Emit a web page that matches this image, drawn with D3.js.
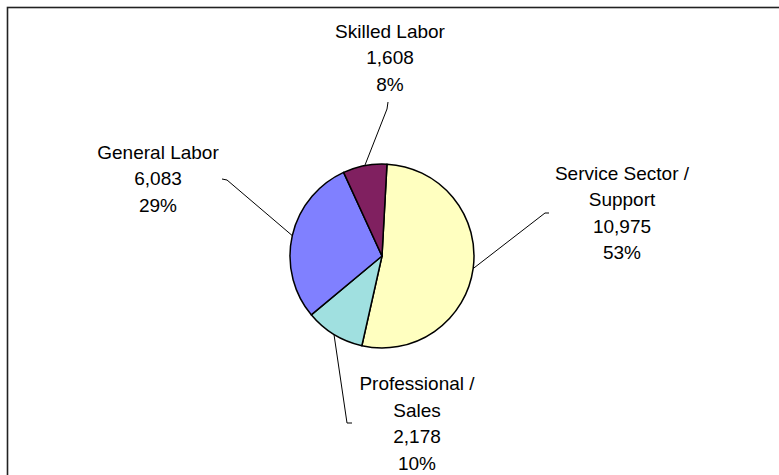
<!DOCTYPE html>
<html>
<head>
<meta charset="utf-8">
<script src="https://cdn.jsdelivr.net/npm/d3@7"></script>
<style>
  html, body { margin: 0; padding: 0; background: #fff; }
  svg { display: block; }
</style>
</head>
<body>
<svg id="chart" width="779" height="475"></svg>
<script>
// ---- data ----
const categories = ["Service Sector / Support", "Professional / Sales", "General Labor", "Skilled Labor"];
const labelLines = [["Service Sector /", "Support"], ["Professional /", "Sales"], ["General Labor"], ["Skilled Labor"]];
const values = [10975, 2178, 6083, 1608];
const colors = ["#FFFFC0", "#A0E0E0", "#8080FF", "#802060"];

// ---- layout ----
const W = 779, H = 475;
const cx = 382, cy = 256, R = 92;
const startAngle = 3.1 * Math.PI / 180;
const fontSize = 19, lineH = 26.5;
// label block: center x, first baseline y ; leader end (elbow) points
const labelLayout = [
  { x: 622, y: 179.5, elbow: [[545, 213], [549, 213]] },
  { x: 417, y: 390, elbow: [[347, 423], [352, 423]] },
  { x: 158, y: 158.5, elbow: [[227, 180], [222, 179]] },
  { x: 390, y: 37.5, elbow: [[387, 109], [388, 102]] }
];

const svg = d3.select("#chart");

// frame
svg.append("rect")
  .attr("x", 7.5).attr("y", 7.5)
  .attr("width", W + 10).attr("height", H + 10)
  .attr("fill", "none").attr("stroke", "#222").attr("stroke-width", 1.6);

const total = d3.sum(values);
const data = categories.map((c, i) => ({ cat: c, value: values[i], i }));

const pie = d3.pie().value(d => d.value).sort(null)
  .startAngle(startAngle).endAngle(startAngle + 2 * Math.PI);
const arcs = pie(data);
const arc = d3.arc().innerRadius(0).outerRadius(R);

const g = svg.append("g").attr("transform", `translate(${cx},${cy})`);
g.selectAll("path.slice").data(arcs).enter().append("path")
  .attr("class", "slice")
  .attr("d", arc)
  .attr("fill", d => colors[d.data.i])
  .attr("stroke", "#000").attr("stroke-width", 1.5)
  .attr("stroke-linejoin", "round");

// leader lines
const line = d3.line();
arcs.forEach(a => {
  const mid = (a.startAngle + a.endAngle) / 2;
  const p0 = [cx + R * Math.sin(mid), cy - R * Math.cos(mid)];
  const L = labelLayout[a.data.i];
  svg.append("path")
    .attr("d", line([p0, ...L.elbow]))
    .attr("fill", "none").attr("stroke", "#000").attr("stroke-width", 1);
});

// labels
const fmt = d3.format(",");
arcs.forEach(a => {
  const i = a.data.i;
  const L = labelLayout[i];
  const lines = [...labelLines[i], fmt(values[i]), Math.round(values[i] / total * 100) + "%"];
  const t = svg.append("text")
    .attr("text-anchor", "middle")
    .attr("font-family", "Liberation Sans, Arial, sans-serif")
    .attr("font-size", fontSize)
    .attr("fill", "#000");
  lines.forEach((s, k) => {
    t.append("tspan").attr("x", L.x).attr("y", L.y + k * lineH).text(s);
  });
});
</script>
</body>
</html>
